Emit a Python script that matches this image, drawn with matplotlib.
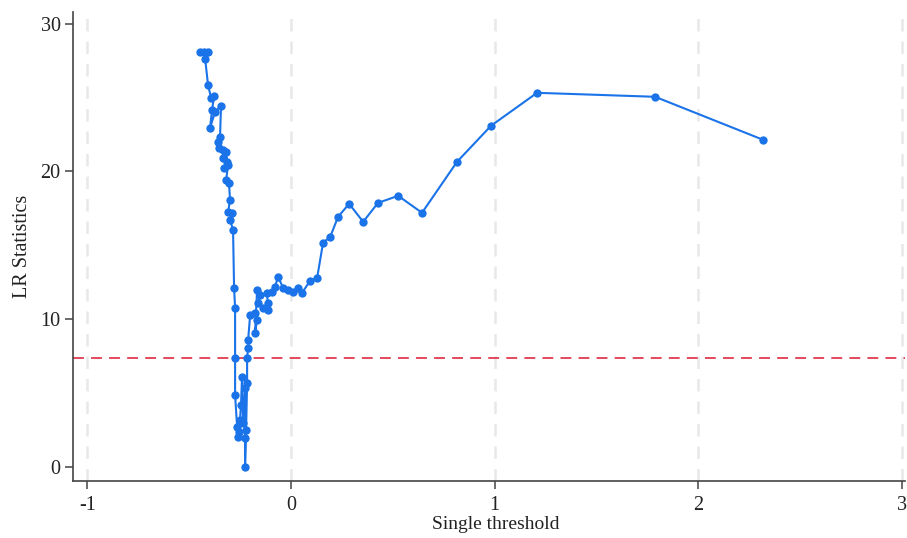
import matplotlib
matplotlib.use("Agg")
import matplotlib.pyplot as plt

threshold = [-0.447, -0.427, -0.408, -0.422, -0.408, -0.393, -0.378, -0.388, -0.398, -0.373,
             -0.344, -0.349, -0.359, -0.354, -0.334, -0.334, -0.319, -0.314, -0.329, -0.309,
             -0.319, -0.305, -0.300, -0.309, -0.290, -0.300, -0.285, -0.280, -0.275, -0.275,
             -0.275, -0.265, -0.260, -0.250, -0.255, -0.246, -0.241, -0.236, -0.226, -0.226,
             -0.226, -0.221, -0.216, -0.216, -0.211, -0.211, -0.201, -0.177, -0.167, -0.177,
             -0.167, -0.152, -0.162, -0.138, -0.113, -0.113, -0.118, -0.093, -0.079, -0.064,
             -0.039, -0.015, 0.010, 0.034, 0.054, 0.093, 0.128, 0.157, 0.192, 0.231,
             0.285, 0.354, 0.427, 0.526, 0.643, 0.815, 0.982, 1.208, 1.788, 2.318]
lr_stat = [28.10, 28.10, 28.10, 27.62, 25.86, 24.98, 25.12, 24.17, 22.95, 24.04,
           24.44, 22.34, 22.00, 21.60, 21.46, 20.92, 21.33, 20.65, 20.24, 20.45,
           19.43, 19.23, 18.08, 17.26, 17.20, 16.72, 16.05, 12.12, 10.77, 7.38,
           4.87, 2.71, 2.03, 3.18, 2.37, 4.20, 6.09, 2.98, 5.35, 1.96,
           0.00, 2.51, 5.69, 7.38, 8.06, 8.60, 10.29, 10.43, 9.95, 9.07,
           11.98, 11.65, 11.10, 10.77, 11.10, 10.63, 11.78, 11.85, 12.19, 12.86,
           12.12, 11.98, 11.85, 12.12, 11.78, 12.59, 12.80, 15.17, 15.57, 16.93,
           17.81, 16.59, 17.87, 18.35, 17.20, 20.65, 23.09, 25.32, 25.05, 22.14]
critical_value = 7.38
x_ticks = [-1, 0, 1, 2, 3]
y_ticks = [0, 10, 20, 30]

plt.rcParams['font.family'] = ['Liberation Serif', 'DejaVu Serif']

fig = plt.figure(figsize=(9.07, 5.38), dpi=100)
ax = fig.add_axes([0.0805, 0.106, 0.9175, 0.872])

for xt in x_ticks:
    ax.axvline(xt, color='#e8e8e8', lw=1.8, ls=(0, (5, 4)), zorder=0)

ax.axhline(critical_value, color='#e03a4e', lw=1.3, ls=(0, (6, 4)), zorder=1)
ax.plot(threshold, lr_stat, color='#1a73e8', lw=1.5, marker='o', markersize=6,
        markeredgewidth=0, zorder=3)

ax.set_xlim(-1.071, 3.016)
ax.set_ylim(-0.95, 30.8)
ax.set_xticks(x_ticks)
ax.set_xticklabels([str(t) for t in x_ticks])
ax.set_yticks(y_ticks)

for s in ['top', 'right']:
    ax.spines[s].set_visible(False)
for s in ['left', 'bottom']:
    ax.spines[s].set_color('#444444')
    ax.spines[s].set_linewidth(1.2)

ax.tick_params(axis='both', direction='out', length=6, width=1.1, color='#444444',
               labelsize=14.5, labelcolor='#222222', pad=3)
ax.tick_params(axis='x', pad=5)
ax.set_xlabel('Single threshold', fontsize=14, color='#222222')
ax.set_ylabel('LR Statistics', fontsize=14.5, color='#222222')
ax.xaxis.set_label_coords(0.508, -0.075)
ax.yaxis.set_label_coords(-0.049, 0.5)

fig.savefig('out.png', dpi=100)
